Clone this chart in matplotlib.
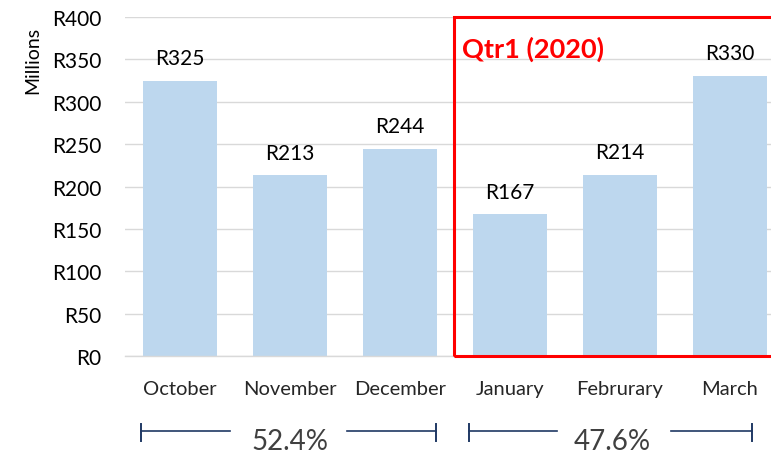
import matplotlib
matplotlib.use("Agg")
import matplotlib.pyplot as plt
from matplotlib.patches import Rectangle
from matplotlib.lines import Line2D

plt.rcParams['font.family'] = ['Lato', 'DejaVu Sans']

months = ["October", "November", "December", "January", "Februrary", "March"]
values = [325, 213, 244, 167, 214, 330]
value_labels = ["R325", "R213", "R244", "R167", "R214", "R330"]
yticks = [0, 50, 100, 150, 200, 250, 300, 350, 400]
ytick_labels = ["R0", "R50", "R100", "R150", "R200", "R250", "R300", "R350", "R400"]
shares = ["52.4%", "47.6%"]
box_title = "Qtr1 (2020)"

W, H = 771, 456
fig = plt.figure(figsize=(W / 100, H / 100), dpi=100)
ax = fig.add_axes([125 / W, (H - 357) / H, 660 / W, 339 / H])

x = list(range(len(months)))
ax.bar(x, values, width=0.673, color="#BDD7EE", zorder=2)
for xi, v, lab in zip(x, values, value_labels):
    ax.text(xi, v + 27, lab, ha="center", va="center", fontsize=15, color="#000000")

ax.set_xlim(-0.5, len(months) - 0.5)
ax.set_ylim(0, 400)
ax.set_yticks(yticks)
ax.set_yticklabels(ytick_labels, fontsize=15)
ax.set_xticks(x)
ax.set_xticklabels(months, fontsize=14.5, color="#262626")
ax.tick_params(axis="y", length=0, pad=17)
ax.tick_params(axis="x", length=0, pad=17)
ax.yaxis.grid(True, color="#D9D9D9", linewidth=1, zorder=0)
ax.set_axisbelow(True)
for s in ["top", "right", "left"]:
    ax.spines[s].set_visible(False)
ax.spines["bottom"].set_color("#D9D9D9")
ax.spines["bottom"].set_linewidth(1)
fig.text(33 / W, 1 - 60 / H, "Millions", rotation=90, ha="center", va="center", fontsize=14)

# red quarter box
rect = Rectangle((2.49, 0), 3.6, 400, transform=ax.transData,
                 fill=False, edgecolor="#FF0000", linewidth=2.2, zorder=5, clip_on=False)
ax.add_patch(rect)
ax.text(2.565, 363, box_title, color="#FF0000", fontsize=19.5, fontweight="bold",
        ha="left", va="center")

# bottom brackets
def bracket(x0, x1, g0, g1, label, tx):
    yy = 432 / H
    for a, b in [(x0, g0), (g1, x1)]:
        fig.add_artist(Line2D([a / W, b / W], [1 - yy, 1 - yy], color="#1F3864", linewidth=1.2))
    for a in [x0, x1]:
        fig.add_artist(Line2D([a / W, a / W], [1 - 425 / H, 1 - 442 / H], color="#1F3864", linewidth=1.4))
    fig.text(tx / W, 1 - 442 / H, label, ha="center", va="center", fontsize=20, color="#404040")

bracket(141, 436, 230, 347, shares[0], 290)
bracket(469, 752, 557, 671, shares[1], 612)

fig.savefig("out.png", dpi=100)
